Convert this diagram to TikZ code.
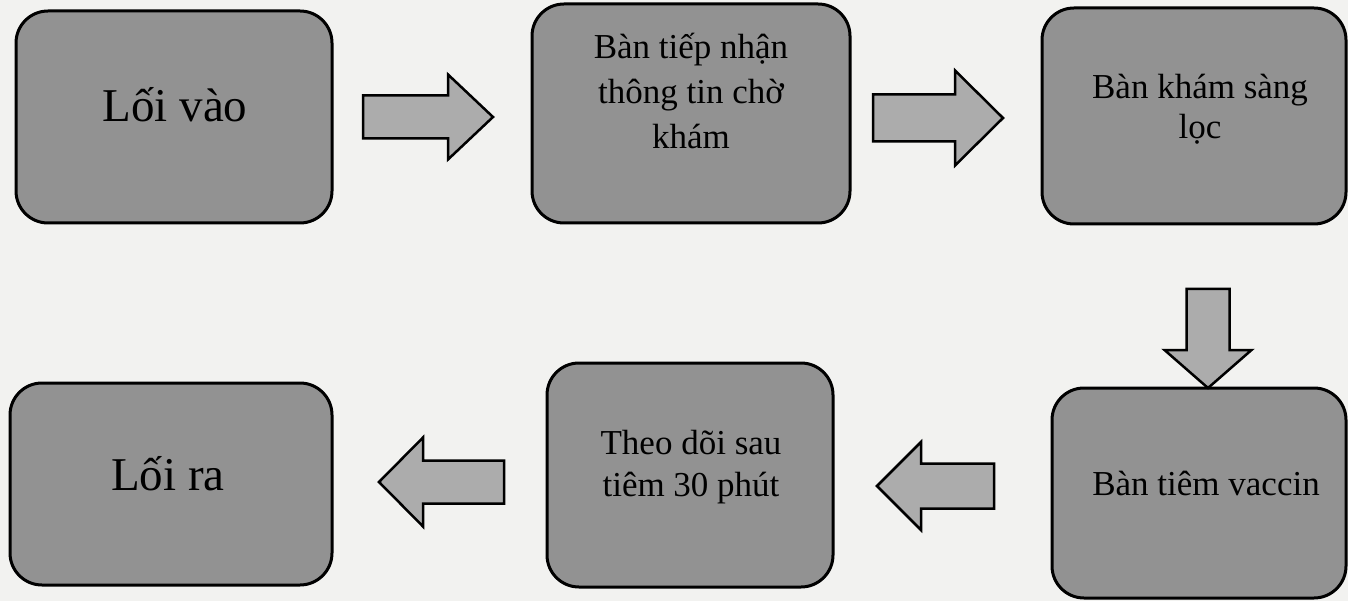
\documentclass[tikz,border=0pt]{standalone}
\usepackage{fontspec}
\setmainfont{Liberation Serif}
\definecolor{bgcol}{RGB}{242,242,240}
\definecolor{boxcol}{RGB}{146,146,146}
\definecolor{arrowcol}{RGB}{172,172,172}
\tikzset{
  stage/.style={draw=black, line width=3pt, fill=boxcol, rounded corners=32pt, inner sep=0pt},
  bigtxt/.style={font=\fontsize{47}{54}\selectfont, inner sep=0pt, anchor=base},
  midtxt/.style={font=\fontsize{35}{43}\selectfont, inner sep=0pt, anchor=base},
  multitxt/.style={font=\fontsize{35}{#1}\selectfont, inner sep=0pt, anchor=north, align=center},
  arrowshape/.style={draw=black, line width=2.5pt, fill=arrowcol, line join=miter},
  pics/barrow/.style n args={4}{code={
    \draw[arrowshape] (0,-#2) -- ({#1-#4},-#2) -- ({#1-#4},-#3) -- (#1,0) -- ({#1-#4},#3) -- ({#1-#4},#2) -- (0,#2) -- cycle;
  }}
}
\begin{document}
\begin{tikzpicture}[x=1pt,y=-1pt]
\useasboundingbox (0,0) rectangle (1348,601);
\fill[bgcol] (0,0) rectangle (1348,601);
% boxes
\node[stage, minimum width=316pt, minimum height=212pt] (b1) at (174,117) {};
\node[stage, minimum width=318pt, minimum height=219pt] (b2) at (691,113.5) {};
\node[stage, minimum width=304pt, minimum height=216pt] (b3) at (1194,116) {};
\node[stage, minimum width=294pt, minimum height=210pt] (b4) at (1199,493) {};
\node[stage, minimum width=286pt, minimum height=224pt] (b5) at (690,475) {};
\node[stage, minimum width=322pt, minimum height=202pt] (b6) at (171,484) {};
% texts
\node[bigtxt] (t1) at (175,122) {Lối vào};
\node[multitxt=45] (t2) at (691,22) {\rule{0pt}{36pt}Bàn tiếp nhận\\thông tin chờ\\khám};
\node[multitxt=40] (t3) at (1200,62) {\rule{0pt}{36pt}Bàn khám sàng\\lọc};
\node[midtxt] (t4) at (1206,495) {Bàn tiêm vaccin};
\node[multitxt=42] (t5) at (691,418) {\rule{0pt}{36pt}Theo dõi sau\\tiêm 30 phút};
\node[bigtxt] (t6) at (168,490) {Lối ra};
% block arrows
\coordinate (a1) at (363,117);
\coordinate (a2) at (873,118);
\coordinate (a3) at (1208,289);
\coordinate (a4) at (994,486);
\coordinate (a5) at (504,482);
\pic at (a1) {barrow={130}{21.5}{42.5}{45}};
\pic at (a2) {barrow={130}{23.5}{47.5}{48}};
\pic[rotate=-90] at (a3) {barrow={99}{21.5}{43.5}{38}};
\pic[rotate=180] at (a4) {barrow={117}{22.5}{44}{44}};
\pic[rotate=180] at (a5) {barrow={125}{21.5}{44.5}{44}};
\end{tikzpicture}
\end{document}
